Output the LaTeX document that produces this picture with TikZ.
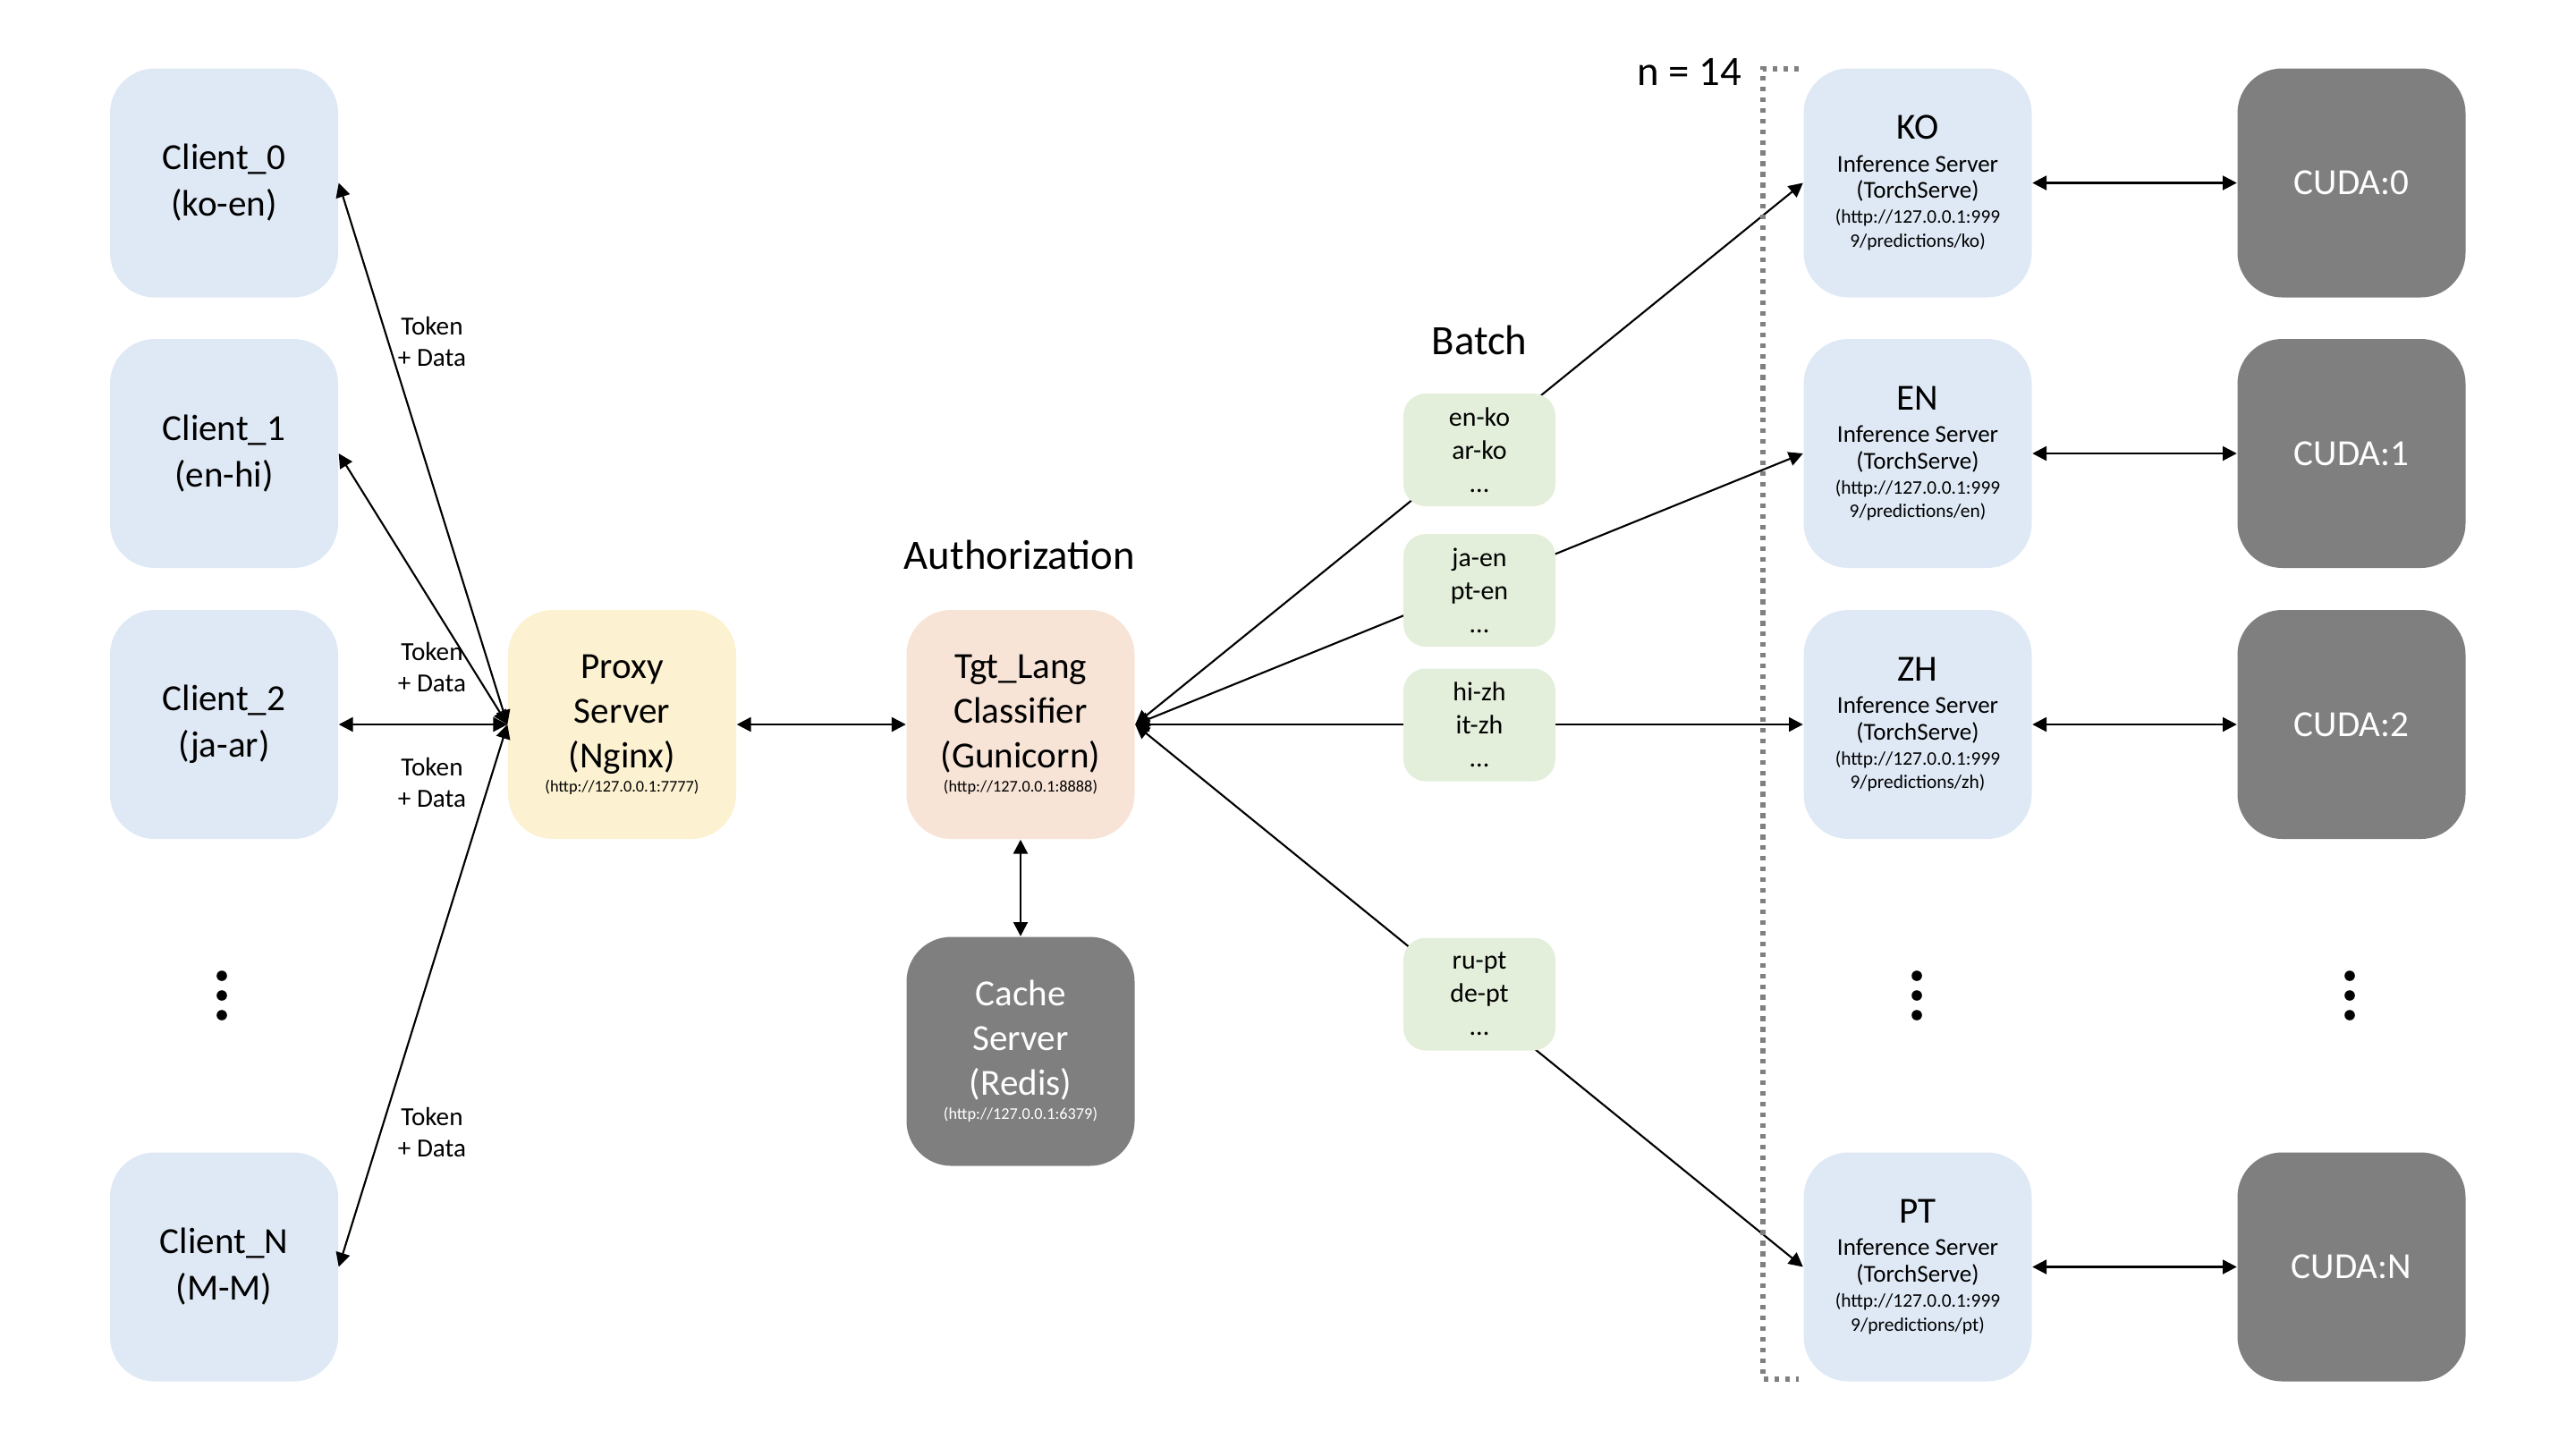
\documentclass[tikz,border=0pt]{standalone}
\usepackage{fontspec}
\setmainfont{Carlito}
\usetikzlibrary{arrows.meta}

\definecolor{clientblue}{HTML}{DFE9F5}
\definecolor{proxyyellow}{HTML}{FCF1D1}
\definecolor{tgtpeach}{HTML}{F7E4D7}
\definecolor{batchgreen}{HTML}{E3EFDA}
\definecolor{boxgray}{HTML}{7F7F7F}
\definecolor{bracketgray}{HTML}{808080}

\tikzset{
  box/.style={rounded corners=0.5cm, minimum width=2.55cm, minimum height=2.56cm,
    inner sep=0pt, align=center},
  client/.style={box, fill=clientblue, font=\fontsize{11.7}{14.8}\selectfont},
  proxybox/.style={box, fill=proxyyellow, font=\fontsize{11.7}{14.2}\selectfont},
  tgtbox/.style={box, fill=tgtpeach, font=\fontsize{11.7}{14.2}\selectfont},
  graybox/.style={box, fill=boxgray, text=white, font=\fontsize{11.7}{14.2}\selectfont},
  infer/.style={box, fill=clientblue, font=\fontsize{7.7}{8.5}\selectfont},
  batch/.style={rounded corners=0.25cm, minimum width=1.70cm, minimum height=1.26cm,
    inner sep=0pt, align=center, fill=batchgreen, font=\fontsize{8.5}{10.5}\selectfont},
  header/.style={font=\fontsize{13.3}{16}\selectfont},
  tokenlabel/.style={align=center, inner sep=0pt, font=\fontsize{8.3}{10.2}\selectfont},
  link/.style={line width=0.6pt, >={Triangle[length=4.5pt,width=4.5pt]}, <->},
}
\newcommand{\urltext}{\fontsize{5.2}{6}\selectfont}
\newcommand{\infurl}{\fontsize{6.1}{6.8}\selectfont}

\begin{document}
\begin{tikzpicture}
	\useasboundingbox (0,0) rectangle (28.8,-16.18);
	% clients
	\node [client] (c0) at (2.505,-2.045) {Client\_0\\(ko-en)};
	\node [client] (c1) at (2.505,-5.07) {Client\_1\\(en-hi)};
	\node [client] (c2) at (2.505,-8.10) {Client\_2\\(ja-ar)};
	\node [client] (cN) at (2.505,-14.165) {Client\_N\\(M-M)};
	% proxy, classifier and cache
	\node [proxybox] (proxy) at (6.955,-8.10) {Proxy\\Server\\(Nginx)\\[-6.5pt]{\urltext (http://127.0.0.1:7777)}};
	\node [tgtbox] (tgt) at (11.41,-8.10) {Tgt\_Lang\\Classifier\\(Gunicorn)\\[-6.5pt]{\urltext (http://127.0.0.1:8888)}};
	\node [graybox] (cache) at (11.41,-11.755) {Cache\\Server\\(Redis)\\[-6.5pt]{\urltext (http://127.0.0.1:6379)}};
	\node [header] (auth) at (11.40,-6.20) {Authorization};
	% inference servers
	\node [infer] (ko) at (21.44,-2.045) {{\fontsize{11.7}{12}\selectfont KO}\\[1.8pt]Inference Server\\(TorchServe)\\[-0.6pt]{\infurl (http://127.0.0.1:999}\\[-0.9pt]{\infurl 9/predictions/ko)}};
	\node [infer] (en) at (21.44,-5.07) {{\fontsize{11.7}{12}\selectfont EN}\\[1.8pt]Inference Server\\(TorchServe)\\[-0.6pt]{\infurl (http://127.0.0.1:999}\\[-0.9pt]{\infurl 9/predictions/en)}};
	\node [infer] (zh) at (21.44,-8.10) {{\fontsize{11.7}{12}\selectfont ZH}\\[1.8pt]Inference Server\\(TorchServe)\\[-0.6pt]{\infurl (http://127.0.0.1:999}\\[-0.9pt]{\infurl 9/predictions/zh)}};
	\node [infer] (pt) at (21.44,-14.165) {{\fontsize{11.7}{12}\selectfont PT}\\[1.8pt]Inference Server\\(TorchServe)\\[-0.6pt]{\infurl (http://127.0.0.1:999}\\[-0.9pt]{\infurl 9/predictions/pt)}};
	% GPUs
	\node [graybox] (cuda0) at (26.29,-2.045) {CUDA:0};
	\node [graybox] (cuda1) at (26.29,-5.07) {CUDA:1};
	\node [graybox] (cuda2) at (26.29,-8.10) {CUDA:2};
	\node [graybox] (cudaN) at (26.29,-14.165) {CUDA:N};
	% client <-> proxy
	\draw [link] (c0.east) -- (proxy.west);
	\draw [link] (c1.east) -- (proxy.west);
	\draw [link,line width=0.75pt] (c2.east) -- (proxy.west);
	\draw [link] (cN.east) -- (proxy.west);
	\node [tokenlabel] (tok0) at (4.83,-3.82) {Token\\+ Data};
	\node [tokenlabel] (tok1) at (4.83,-7.46) {Token\\+ Data};
	\node [tokenlabel] (tok2) at (4.83,-8.75) {Token\\+ Data};
	\node [tokenlabel] (tokN) at (4.83,-12.66) {Token\\+ Data};
	% proxy <-> classifier <-> cache
	\draw [link,line width=0.75pt] (proxy.east) -- (tgt.west);
	\draw [link,line width=0.75pt] (tgt.south) -- (cache.north);
	% classifier <-> inference servers
	\draw [link] (tgt.east) -- (ko.west);
	\draw [link] (tgt.east) -- (en.west);
	\draw [link,line width=0.75pt] (tgt.east) -- (zh.west);
	\draw [link] (tgt.east) -- (pt.west);
	% batches on top of the lines
	\node [header] (batchlabel) at (16.54,-3.80) {Batch};
	\node [batch] (b0) at (16.54,-5.03) {en-ko\\ar-ko\\...};
	\node [batch] (b1) at (16.54,-6.60) {ja-en\\pt-en\\...};
	\node [batch] (b2) at (16.54,-8.105) {hi-zh\\it-zh\\...};
	\node [batch] (b3) at (16.54,-11.115) {ru-pt\\de-pt\\...};
	% inference <-> GPU
	\draw [link,line width=0.75pt] (ko.east) -- (cuda0.west);
	\draw [link,line width=0.75pt] (en.east) -- (cuda1.west);
	\draw [link,line width=0.75pt] (zh.east) -- (cuda2.west);
	\draw [link,line width=0.75pt] (pt.east) -- (cudaN.west);
	% n = 14 bracket
	\draw [bracketgray, line width=1.5pt, dash pattern=on 1.5pt off 1.9pt]
		(20.11,-0.77) -- (19.71,-0.77) -- (19.71,-15.42) -- (20.11,-15.42);
	\node [header] (nlabel) at (18.89,-0.80) {n = 14};
	% vertical dots
	\foreach \x in {2.48,21.43,26.27}
		\foreach \y in {-10.91,-11.13,-11.35}
			\fill (\x,\y) circle (0.058);
\end{tikzpicture}
\end{document}
